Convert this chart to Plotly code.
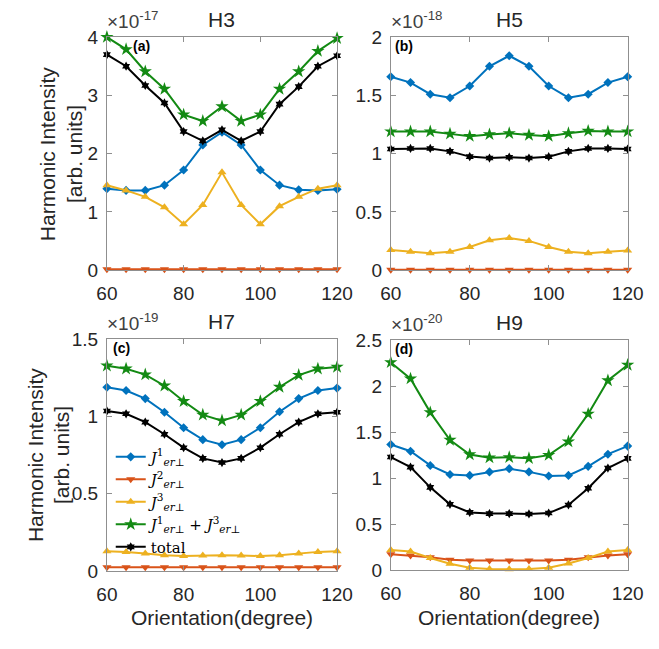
import plotly.graph_objects as go

W, H = 659, 649

orientation = [60, 65, 70, 75, 80, 85, 90, 95, 100, 105, 110, 115, 120]

# Panel (a) H3, values in units of 1e-17
h3_j1 = [1.40, 1.37, 1.37, 1.46, 1.72, 2.15, 2.37, 2.15, 1.72, 1.46, 1.38, 1.37, 1.39]
h3_j2 = [0.02] * 13
h3_j3 = [1.46, 1.37, 1.26, 1.08, 0.79, 1.12, 1.68, 1.12, 0.79, 1.10, 1.26, 1.40, 1.46]
h3_j13 = [4.00, 3.79, 3.41, 3.11, 2.67, 2.56, 2.81, 2.56, 2.67, 3.11, 3.41, 3.76, 3.98]
h3_tot = [3.70, 3.50, 3.17, 2.87, 2.38, 2.22, 2.41, 2.22, 2.38, 2.85, 3.15, 3.50, 3.68]

# Panel (b) H5, units of 1e-18
h5_j1 = [1.66, 1.61, 1.51, 1.48, 1.58, 1.75, 1.84, 1.75, 1.58, 1.48, 1.51, 1.61, 1.66]
h5_j2 = [0.005] * 13
h5_j3 = [0.174, 0.16, 0.147, 0.16, 0.20, 0.257, 0.277, 0.252, 0.20, 0.16, 0.147, 0.16, 0.17]
h5_j13 = [1.19, 1.19, 1.19, 1.17, 1.15, 1.165, 1.175, 1.16, 1.15, 1.175, 1.195, 1.19, 1.19]
h5_tot = [1.04, 1.045, 1.045, 1.02, 0.975, 0.963, 0.97, 0.963, 0.974, 1.02, 1.045, 1.045, 1.04]

# Panel (c) H7, units of 1e-19
h7_j1 = [1.188, 1.167, 1.115, 1.027, 0.927, 0.85, 0.817, 0.85, 0.927, 1.03, 1.115, 1.167, 1.183]
h7_j2 = [0.025] * 13
h7_j3 = [0.129, 0.125, 0.115, 0.104, 0.098, 0.102, 0.104, 0.102, 0.098, 0.104, 0.115, 0.125, 0.129]
h7_j13 = [1.327, 1.308, 1.27, 1.198, 1.098, 1.01, 0.973, 1.01, 1.098, 1.19, 1.267, 1.308, 1.319]
h7_tot = [1.035, 1.017, 0.963, 0.885, 0.798, 0.729, 0.702, 0.729, 0.798, 0.885, 0.963, 1.017, 1.027]

# Panel (d) H9, units of 1e-20
h9_j1 = [1.365, 1.292, 1.138, 1.04, 1.03, 1.068, 1.103, 1.068, 1.023, 1.03, 1.128, 1.26, 1.348]
h9_j2 = [0.175, 0.16, 0.14, 0.115, 0.105, 0.105, 0.105, 0.105, 0.105, 0.115, 0.14, 0.16, 0.175]
h9_j3 = [0.22, 0.2025, 0.133, 0.07, 0.028, 0.014, 0.01, 0.014, 0.028, 0.073, 0.133, 0.2025, 0.22]
h9_j13 = [2.256, 2.08, 1.714, 1.414, 1.257, 1.222, 1.226, 1.215, 1.25, 1.397, 1.697, 2.06, 2.228]
h9_tot = [1.229, 1.12, 0.90, 0.716, 0.628, 0.615, 0.615, 0.611, 0.621, 0.709, 0.89, 1.11, 1.215]

panel_titles = ["H3", "H5", "H7", "H9"]
panel_tags = ["(a)", "(b)", "(c)", "(d)"]
exponents = ["-17", "-18", "-19", "-20"]
y_max = [4, 2, 1.5, 2.5]
y_ticks = [[0, 1, 2, 3, 4], [0, 0.5, 1, 1.5, 2], [0, 0.5, 1, 1.5], [0, 0.5, 1, 1.5, 2, 2.5]]
y_ticktext = [["0", "1", "2", "3", "4"], ["0", "0.5", "1", "1.5", "2"],
              ["0", "0.5", "1", "1.5"], ["0", "0.5", "1", "1.5", "2", "2.5"]]
x_ticks = [60, 80, 100, 120]

series_names = [
    "<i>J</i><sup>1</sup><sub><i>er</i>⊥</sub>",
    "<i>J</i><sup>2</sup><sub><i>er</i>⊥</sub>",
    "<i>J</i><sup>3</sup><sub><i>er</i>⊥</sub>",
    "<i>J</i><sup>1</sup><sub><i>er</i>⊥</sub> + <i>J</i><sup>3</sup><sub><i>er</i>⊥</sub>",
    "total",
]
colors = ["#0072BD", "#D95319", "#EDB120", "#138A13", "#000000"]
symbols = ["diamond", "triangle-down", "triangle-up", "star", "hexagram"]
msizes = [7, 8, 8, 10, 7]

panels = [
    [h3_j1, h3_j2, h3_j3, h3_j13, h3_tot],
    [h5_j1, h5_j2, h5_j3, h5_j13, h5_tot],
    [h7_j1, h7_j2, h7_j3, h7_j13, h7_tot],
    [h9_j1, h9_j2, h9_j3, h9_j13, h9_tot],
]

# pixel boxes (left, right, top, bottom)
boxes = [(100, 340, 28, 269), (396, 643, 28, 269), (100, 340, 340, 580), (396, 643, 341, 579)]
tag_offsets = [25, 2, 4, 2]

fig = go.Figure()
axis_col = "#8f8f8f"
text_col = "#262626"
FONT = "Liberation Sans, Arial, sans-serif"

for i, data in enumerate(panels):
    xa = "x" if i == 0 else f"x{i+1}"
    ya = "y" if i == 0 else f"y{i+1}"
    for k, vals in enumerate(data):
        fig.add_trace(go.Scatter(
            x=orientation, y=vals, xaxis=xa, yaxis=ya, mode="lines+markers",
            name=series_names[k], showlegend=(i == 2),
            line=dict(color=colors[k], width=2),
            marker=dict(symbol=symbols[k], size=msizes[k], color=colors[k]),
            cliponaxis=False,
        ))
    l, r, t, b = boxes[i]
    xd = [l / W, r / W]
    yd = [1 - b / H, 1 - t / H]
    axcommon = dict(showline=True, linecolor=axis_col, linewidth=1, mirror="allticks",
                    ticks="inside", ticklen=5, tickcolor=axis_col, showgrid=False,
                    zeroline=False, tickfont=dict(family=FONT, size=19, color=text_col))
    fig.layout[("xaxis" if i == 0 else f"xaxis{i+1}")] = dict(
        domain=xd, range=[60, 120], tickvals=x_ticks, anchor=ya,
        ticklabelstandoff=6, **axcommon)
    fig.layout[("yaxis" if i == 0 else f"yaxis{i+1}")] = dict(
        domain=yd, range=[0, y_max[i]], tickvals=y_ticks[i], ticktext=y_ticktext[i],
        anchor=xa, ticklabelstandoff=4, **axcommon)
    # title
    fig.add_annotation(x=(l + r) / 2 / W, y=1 - (t - 4) / H, xref="paper", yref="paper",
                       text=panel_titles[i], showarrow=False, xanchor="center", yanchor="bottom",
                       font=dict(family=FONT, size=21, color=text_col))
    # exponent
    fig.add_annotation(x=(l - 2) / W, y=1 - (t - 3) / H, xref="paper", yref="paper",
                       text="×10<sup>" + exponents[i] + "</sup>", showarrow=False,
                       xanchor="left", yanchor="bottom",
                       font=dict(family=FONT, size=19, color="#404040"))
    # tag
    fig.add_annotation(x=(l + tag_offsets[i]) / W, y=1 - (t - 1) / H, xref="paper", yref="paper",
                       text="<b>" + panel_tags[i] + "</b>", showarrow=False,
                       xanchor="left", yanchor="top",
                       font=dict(family=FONT, size=14, color="#000000"))

# y-axis titles on the left panels
ytitle_x = [(38, 66), (25, 52)]
for row, (l, r, t, b) in enumerate([boxes[0], boxes[2]]):
    cy = 1 - (t + b) / 2 / H
    fig.add_annotation(x=ytitle_x[row][0] / W, y=cy, xref="paper", yref="paper",
                       text="Harmonic Intensity", textangle=-90, showarrow=False,
                       xanchor="center", yanchor="middle",
                       font=dict(family=FONT, size=21, color=text_col))
    fig.add_annotation(x=ytitle_x[row][1] / W, y=cy, xref="paper", yref="paper",
                       text="[arb. units]", textangle=-90, showarrow=False,
                       xanchor="center", yanchor="middle",
                       font=dict(family=FONT, size=21, color=text_col))

# x-axis titles on bottom panels
for (l, r, t, b) in [boxes[2], boxes[3]]:
    fig.add_annotation(x=(l + r) / 2 / W, y=1 - 628 / H, xref="paper", yref="paper",
                       text="Orientation(degree)", showarrow=False,
                       xanchor="center", yanchor="middle",
                       font=dict(family=FONT, size=21, color=text_col))

fig.update_layout(
    width=W, height=H, margin=dict(l=0, r=0, t=0, b=0),
    paper_bgcolor="white", plot_bgcolor="white",
    showlegend=True,
    legend=dict(x=104 / W, y=1 - 445 / H, xanchor="left", yanchor="top",
                bgcolor="rgba(0,0,0,0)", borderwidth=0, tracegroupgap=0,
                itemwidth=30,
                font=dict(family="DejaVu Serif, serif", size=15, color="#000000")),
)

fig.write_html("out.html")
